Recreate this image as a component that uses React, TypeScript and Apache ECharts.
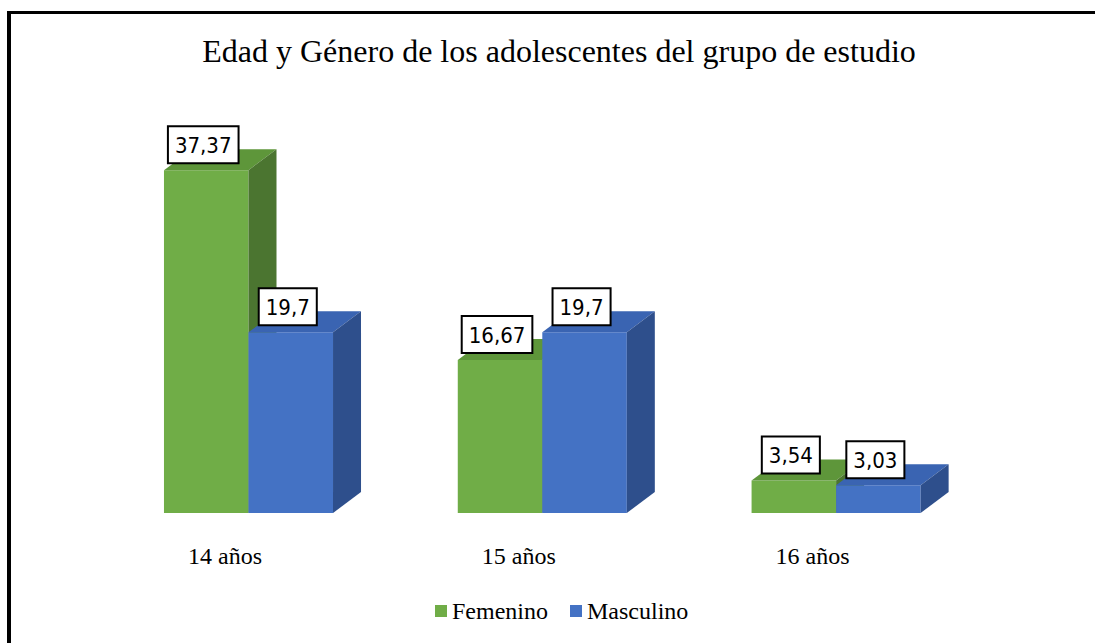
import React, { useEffect, useRef } from "react";
import * as echarts from "echarts";

const categories = ["14 años", "15 años", "16 años"];
const femenino = [37.37, 16.67, 3.54];
const masculino = [19.7, 19.7, 3.03];
const seriesNames = ["Femenino", "Masculino"];

const FRONT = ["#70AD47", "#4472C4"];
const TOP = ["#5E963A", "#3A64B2"];
const SIDE = ["#4B7530", "#2E4F8C"];
const DX = 28;
const DY = 21;
const BAR_RATIO = 0.2877;

function makeRender(idx: number) {
  return (params: any, api: any) => {
    const cat = api.value(0);
    const val = api.value(1);
    const top = api.coord([cat, val]);
    const base = api.coord([cat, 0]);
    const band = api.size([1, 0])[0];
    const w = band * BAR_RATIO;
    const x0 = idx === 0 ? top[0] - w : top[0];
    const x1 = x0 + w;
    const yT = top[1];
    const yB = base[1];
    const label = String(val).replace(".", ",");
    return {
      type: "group",
      children: [
        {
          type: "rect",
          shape: { x: x0, y: yT, width: w, height: yB - yT },
          style: { fill: FRONT[idx] },
        },
        {
          type: "polygon",
          shape: {
            points: [
              [x0, yT],
              [x1, yT],
              [x1 + DX, yT - DY],
              [x0 + DX, yT - DY],
            ],
          },
          style: { fill: TOP[idx] },
        },
        {
          type: "polygon",
          shape: {
            points: [
              [x1, yT],
              [x1 + DX, yT - DY],
              [x1 + DX, yB - DY],
              [x1, yB],
            ],
          },
          style: { fill: SIDE[idx] },
        },
        {
          type: "text",
          z2: 100,
          style: {
            text: label,
            x: (x0 + x1) / 2 - 3,
            y: yT - 8,
            align: "center",
            verticalAlign: "bottom",
            fill: "#000",
            font: '22px "Liberation Sans Narrow", "DejaVu Sans Condensed", Lato, sans-serif',
            backgroundColor: "#fff",
            borderColor: "#000",
            borderWidth: 2,
            padding: [7, 6, 6, 6],
          },
        },
      ],
    };
  };
}

export default function App() {
  const ref = useRef<HTMLDivElement>(null);
  useEffect(() => {
    if (!ref.current) return;
    const chart = echarts.init(ref.current, null, { renderer: "svg" });
    const dataSets = [femenino, masculino];
    chart.setOption({
      animation: false,
      backgroundColor: "#fff",
      title: {
        text: "Edad y Género de los adolescentes del grupo de estudio",
        left: 554,
        textAlign: "center",
        top: 30,
        textStyle: {
          fontFamily: '"Liberation Serif", "Times New Roman", serif',
          fontSize: 32,
          fontWeight: "normal",
          color: "#000",
        },
      },
      legend: {
        data: seriesNames,
        left: 430,
        top: 594,
        icon: "rect",
        itemWidth: 12,
        itemHeight: 12,
        itemGap: 22,
        textStyle: {
          fontFamily: '"Liberation Serif", "Times New Roman", serif',
          fontSize: 24,
          color: "#000",
        },
      },
      grid: { left: 101.6, right: 112, top: 146, bottom: 130 },
      xAxis: {
        type: "category",
        data: categories,
        axisLine: { show: false },
        axisTick: { show: false },
        axisLabel: {
          margin: 31,
          padding: [0, 47, 0, 0],
          fontFamily: '"Liberation Serif", "Times New Roman", serif',
          fontSize: 24,
          color: "#000",
        },
      },
      yAxis: {
        type: "value",
        min: 0,
        max: 40,
        show: false,
        splitLine: { show: false },
      },
      graphic: [
        { type: "rect", shape: { x: 7, y: 11, width: 4, height: 632 }, style: { fill: "#000" } },
        { type: "rect", shape: { x: 7, y: 11, width: 1088, height: 3 }, style: { fill: "#000" } },
      ],
      series: seriesNames.map((name, i) => ({
        type: "custom",
        name,
        itemStyle: { color: FRONT[i] },
        renderItem: makeRender(i),
        encode: { x: 0, y: 1 },
        data: dataSets[i].map((v, j) => [j, v]),
      })),
    });
    return () => chart.dispose();
  }, []);
  return (
    <div
      ref={ref}
      style={{ position: "fixed", left: 0, top: 0, width: 1095, height: 643 }}
    />
  );
}
